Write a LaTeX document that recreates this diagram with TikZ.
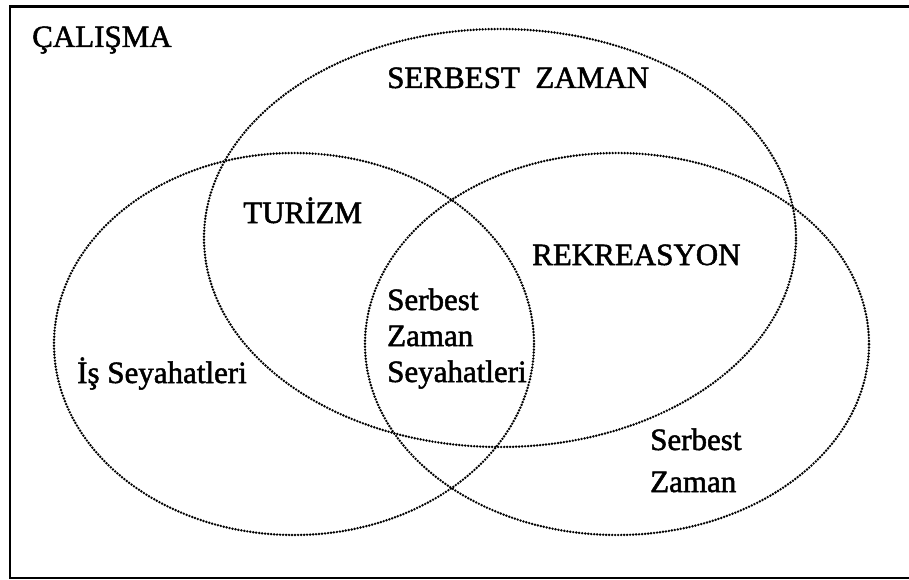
\documentclass[tikz,border=0pt]{standalone}
\usepackage{fontspec}
\setmainfont{Liberation Serif}[BoldFont={Liberation Serif},BoldFeatures={FakeBold=1.6}]
\usetikzlibrary{shapes.geometric}

\begin{document}
\begin{tikzpicture}[x=1pt,y=-1pt,
  set node/.style={ellipse,draw,inner sep=0pt,line width=2.7pt,
    dash pattern=on 0pt off 3pt,line cap=round},
  label node/.style={inner sep=0pt,anchor=base west,align=left,
    font=\fontsize{31}{36}\selectfont\bfseries}]

  \useasboundingbox (0,0) rectangle (909,580);
  \clip (0,0) rectangle (909,580);
  \draw[line width=2.5pt] (930,6.5) -| (10,578) -- (930,578);

  % the three sets
  \node[set node,minimum width=592pt,minimum height=418pt] (serbest) at (500,238) {};
  \node[set node,minimum width=480pt,minimum height=382pt] (turizm) at (294,344) {};
  \node[set node,minimum width=504pt,minimum height=382pt] (rekreasyon) at (617,344) {};

  % labels (base = last line)
  \node[label node] (calisma) at (32,47) {ÇALIŞMA};
  \node[label node] (serbestlbl) at (387,88) {SERBEST~~ZAMAN};
  \node[label node] (turizmlbl) at (243,223) {TURİZM};
  \node[label node] (rekreasyonlbl) at (532,265) {REKREASYON};
  \node[label node] (is) at (77,383) {İş Seyahatleri};
  \node[label node] (seyahat) at (387,382) {Serbest\\Zaman\\Seyahatleri};
  \node[label node,font=\fontsize{31}{42}\selectfont\bfseries] (serbestzaman) at (650,492) {Serbest\\Zaman};

\end{tikzpicture}
\end{document}
